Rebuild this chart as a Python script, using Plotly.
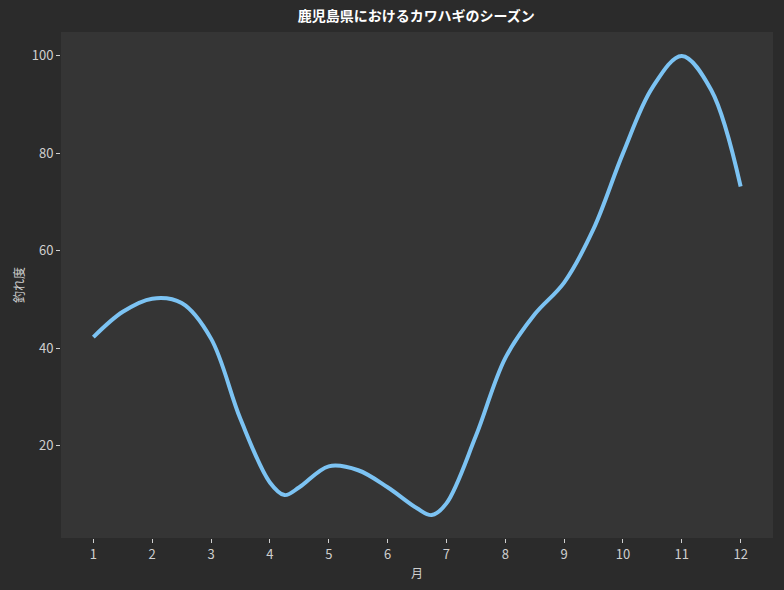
import plotly.graph_objects as go

# 月（半月刻み）と釣れ度
months = [1, 1.5, 2, 2.5, 3, 3.5, 4, 4.25, 4.5, 5, 5.5, 6, 6.5, 6.75,
          7, 7.5, 8, 8.5, 9, 9.5, 10, 10.5, 11, 11.5, 12]
catch_rate = [42.3, 47.5, 50.2, 49.3, 42, 25.5, 12.5, 9.9, 11.5, 15.8, 15, 11.5, 7.2, 5.8,
              8.2, 22, 38, 47, 53.5, 64.5, 80, 93.5, 100, 93, 73.2]
tick_months = list(range(1, 13))
tick_rates = [20, 40, 60, 80, 100]

font_name = "Noto Sans CJK JP"

fig = go.Figure()
fig.add_trace(go.Scatter(x=months, y=catch_rate, mode='lines',
                         line=dict(color='#7cc3f3', width=4, shape='spline', smoothing=1.0),
                         hoverinfo='x+y'))

axis_common = dict(showgrid=False, zeroline=False, showline=False,
                   ticks='outside', ticklen=4, tickwidth=1, tickcolor='#cfcfcf',
                   tickfont=dict(family=font_name, size=13, color='#cfcfcf'))

fig.update_layout(
    title=dict(text='<b>鹿児島県におけるカワハギのシーズン</b>', x=0.531, xanchor='center',
               y=0.972, yanchor='middle',
               font=dict(family=font_name, size=14, color='#ffffff')),
    paper_bgcolor='#2b2b2b', plot_bgcolor='#353535',
    width=784, height=590, showlegend=False,
    margin=dict(l=61, r=11, t=32, b=52),
    xaxis=dict(axis_common, range=[0.45, 12.55], tickvals=tick_months,
               title=dict(text='月', font=dict(family=font_name, size=12, color='#cfcfcf'), standoff=8)),
    yaxis=dict(axis_common, range=[1.1, 104.9], tickvals=tick_rates,
               title=dict(text='釣れ度', font=dict(family=font_name, size=12, color='#cfcfcf'), standoff=4)),
)

# ページの余白を消す
fig.write_html("out.html", config={'displayModeBar': False},
               post_script="document.body.style.margin='0';document.body.style.overflow='hidden';")
